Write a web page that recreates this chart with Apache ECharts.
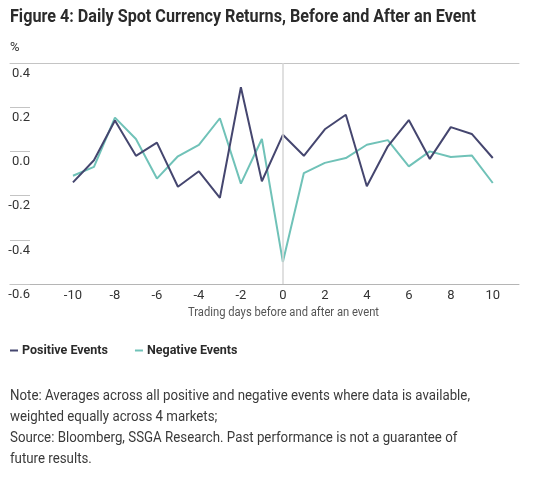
<!DOCTYPE html>
<html>
<head>
<meta charset="utf-8">
<script src="https://cdn.jsdelivr.net/npm/echarts@6/dist/echarts.min.js"></script>
<style>
  html, body { margin: 0; padding: 0; background: #fff; }
  #chart { width: 534px; height: 485px; }
</style>
</head>
<body>
<div id="chart"></div>
<script>
var days = [-10, -9, -8, -7, -6, -5, -4, -3, -2, -1, 0, 1, 2, 3, 4, 5, 6, 7, 8, 9, 10];
var positiveEvents = [-0.14, -0.04, 0.14, -0.02, 0.04, -0.16, -0.09, -0.21, 0.29, -0.135, 0.075,
  -0.02, 0.10, 0.166, -0.158, 0.023, 0.142, -0.034, 0.11, 0.079, -0.03];
var negativeEvents = [-0.11, -0.07, 0.153, 0.056, -0.123, -0.022, 0.03, 0.15, -0.146, 0.056, -0.50,
  -0.098, -0.052, -0.03, 0.03, 0.051, -0.068, 0.0, -0.025, -0.018, -0.143];
var yTicks = { min: -0.6, max: 0.4, step: 0.2 };

var titleText = 'Figure 4: Daily Spot Currency Returns, Before and After an Event';
var noteLines = [
  'Note: Averages across all positive and negative events where data is available,',
  'weighted equally across 4 markets;',
  'Source: Bloomberg, SSGA Research. Past performance is not a guarantee of',
  'future results.'
];

var font = 'Roboto, "Noto Sans", sans-serif';

// squeeze text horizontally to imitate the condensed face of the original
var ctx = document.createElement('canvas').getContext('2d');
function squeeze(text, css, width) {
  ctx.font = css;
  return width / ctx.measureText(text).width;
}

function pairs(vals) {
  var out = [];
  for (var i = 0; i < days.length; i++) {
    out.push([days[i], vals[i]]);
  }
  return out;
}

var titleFont = 'bold 18px ' + font;
var noteFont = '14px ' + font;
var nameFont = '12px ' + font;
var noteScale = squeeze(noteLines[0], noteFont, 460);

var graphics = [{
  type: 'text',
  x: 10, y: 17,
  scaleX: squeeze(titleText, titleFont, 466),
  style: { text: titleText, font: titleFont, fill: '#2b2b2b', textVerticalAlign: 'middle' }
}, {
  type: 'text',
  x: 10, y: 48,
  style: { text: '%', font: '13px ' + font, fill: '#333', textVerticalAlign: 'middle' }
}, {
  type: 'text',
  x: 188, y: 313,
  scaleX: squeeze('Trading days before and after an event', nameFont, 191),
  style: { text: 'Trading days before and after an event', font: nameFont, fill: '#555', textVerticalAlign: 'middle' }
}];
noteLines.forEach(function (line, i) {
  graphics.push({
    type: 'text',
    x: 10, y: 396 + i * 21,
    scaleX: noteScale,
    style: { text: line, font: noteFont, fill: '#3a3a3a', textVerticalAlign: 'middle' }
  });
});

var chart = echarts.init(document.getElementById('chart'));
var option = {
  backgroundColor: '#fff',
  animation: false,
  color: ['#45466f', '#70c2b8'],
  legend: {
    left: 5,
    top: 339,
    icon: 'rect',
    itemWidth: 8,
    itemHeight: 2,
    itemGap: 27,
    textStyle: { fontFamily: font, fontWeight: 'bold', fontSize: 12.5, color: '#2b2b2b', padding: [0, 0, 0, -1] },
    data: ['Positive Events', 'Negative Events']
  },
  grid: { left: 10, right: 15, top: 63, bottom: 201 },
  xAxis: [{
    type: 'value',
    min: -13,
    max: 11.25,
    interval: 1,
    axisLine: { show: true, onZero: false, lineStyle: { color: '#b5b5b5', width: 1 } },
    axisTick: { show: false },
    splitLine: { show: false },
    axisLabel: {
      fontFamily: font, fontSize: 13, color: '#333', margin: 5,
      formatter: function (v) {
        return (Number.isInteger(v) && v % 2 === 0 && v >= -10 && v <= 10) ? String(v) : '';
      }
    }
  }, {
    type: 'value',
    position: 'top',
    min: -13,
    max: 11.25,
    axisLine: { show: true, onZero: false, lineStyle: { color: '#c4c4c4', width: 1 } },
    axisTick: { show: false },
    axisLabel: { show: false },
    splitLine: { show: false }
  }],
  yAxis: {
    type: 'value',
    min: yTicks.min,
    max: yTicks.max,
    interval: yTicks.step,
    axisLine: { show: false, onZero: false },
    axisTick: { show: true, inside: true, length: 20, lineStyle: { color: '#c4c4c4', width: 1 } },
    splitLine: { show: false },
    axisLabel: {
      inside: true,
      align: 'right',
      verticalAlign: 'top',
      margin: 20,
      padding: [4, 0, 0, 0],
      fontFamily: font, fontSize: 13, color: '#333',
      formatter: function (v) { return v.toFixed(1); }
    }
  },
  series: [{
    name: 'Positive Events',
    type: 'line',
    data: pairs(positiveEvents),
    symbol: 'none',
    lineStyle: { width: 2 },
    z: 3,
    markLine: {
      silent: true,
      symbol: 'none',
      label: { show: false },
      lineStyle: { color: '#d6d6d6', width: 1.5, type: 'solid' },
      data: [{ xAxis: 0 }]
    }
  }, {
    name: 'Negative Events',
    type: 'line',
    data: pairs(negativeEvents),
    symbol: 'none',
    lineStyle: { width: 2 },
    z: 2
  }],
  graphic: graphics
};
chart.setOption(option);
</script>
</body>
</html>
